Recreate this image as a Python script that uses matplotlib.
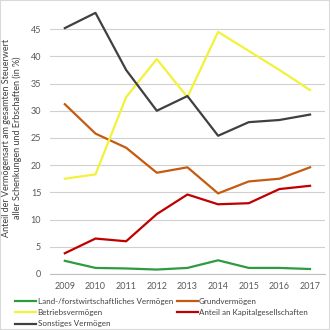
import matplotlib
matplotlib.use("Agg")
import matplotlib.pyplot as plt

years = ['2009', '2010', '2011', '2012', '2013', '2014', '2015', '2016', '2017']

land = [2.4, 1.1, 1.0, 0.8, 1.1, 2.5, 1.1, 1.1, 0.9]
grund = [31.2, 25.8, 23.2, 18.6, 19.6, 14.8, 17.0, 17.5, 19.6]
betrieb = [17.5, 18.3, 32.5, 39.5, 32.5, 44.5, 41.0, 37.5, 33.8]
kapital = [3.8, 6.5, 6.0, 11.0, 14.6, 12.8, 13.0, 15.6, 16.2]
sonstiges = [45.2, 48.0, 37.5, 30.0, 32.7, 25.4, 27.9, 28.3, 29.3]

plt.rcParams['font.family'] = ['Lato', 'DejaVu Sans']

fig = plt.figure(figsize=(3.3, 3.3), dpi=100)
ax = fig.add_axes([0.15, 0.17, 0.836, 0.824])

x = range(len(years))
lw = 1.6
h_land, = ax.plot(x, land, color='#2E9B3F', lw=lw, label='Land-/forstwirtschaftliches Vermögen')
h_grund, = ax.plot(x, grund, color='#C55A11', lw=lw, label='Grundvermögen')
h_betrieb, = ax.plot(x, betrieb, color='#F2F23A', lw=lw, label='Betriebsvermögen')
h_kapital, = ax.plot(x, kapital, color='#C00000', lw=lw, label='Anteil an Kapitalgesellschaften')
h_sonst, = ax.plot(x, sonstiges, color='#404040', lw=lw, label='Sonstiges Vermögen')

ax.set_xlim(-0.5, len(years) - 0.5)
ax.set_ylim(0, 50)
ax.set_yticks(range(0, 50, 5))
ax.set_xticks(list(x))
ax.set_xticklabels(years)
ax.grid(axis='y', color='#D0D0D0', lw=0.8)
ax.set_axisbelow(True)
for s in ['top', 'right', 'left']:
    ax.spines[s].set_visible(False)
ax.spines['bottom'].set_color('#BFBFBF')
ax.tick_params(length=0, labelsize=6.5, colors='#595959', pad=6)

ax.set_ylabel('Anteil der Vermögensart am gesamten Steuerwert\naller Schenkungen und Erbschaften (in %)',
              fontsize=6.5, color='#404040', labelpad=6)

handles = [h_land, h_betrieb, h_sonst, h_grund, h_kapital]
ax.legend(handles, [h.get_label() for h in handles],
          ncol=2, loc='upper left', bbox_to_anchor=(-0.135, -0.075), frameon=False,
          fontsize=5.8, labelcolor='#404040', handlelength=2.6, handletextpad=0.15,
          columnspacing=0.5, labelspacing=0.55, borderaxespad=0)

fig.patches.append(plt.Rectangle((0, 0), 1, 1, transform=fig.transFigure,
                                 fill=False, edgecolor='#D9D9D9', lw=1.5))

fig.savefig('out.png', dpi=100)
